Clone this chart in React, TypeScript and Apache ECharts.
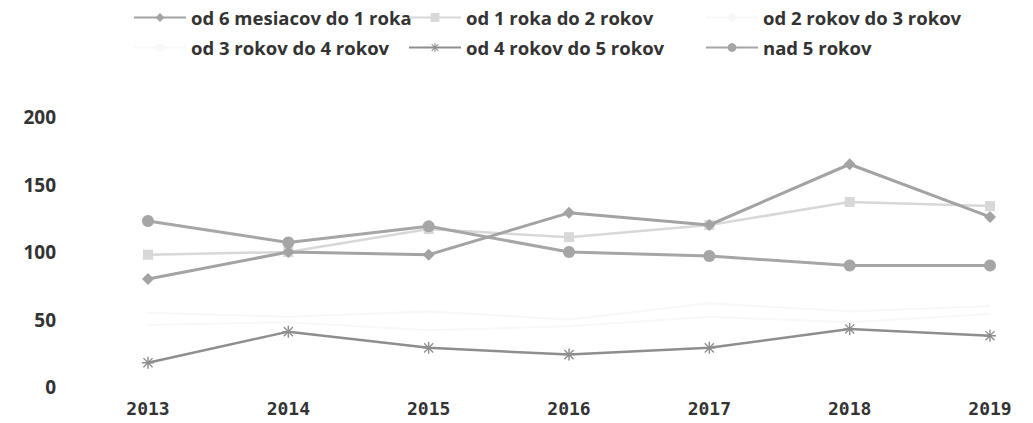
import React, { useEffect, useRef } from "react";
import * as echarts from "echarts";

const years = ["2013", "2014", "2015", "2016", "2017", "2018", "2019"];
const yTicks = [0, 50, 100, 150, 200];

const names = [
  "od 6 mesiacov do 1 roka",
  "od 1 roka do 2 rokov",
  "od 2 rokov do 3 rokov",
  "od 3 rokov do 4 rokov",
  "od 4 rokov do 5 rokov",
  "nad 5 rokov",
];

const s6m1r = [80, 100, 98, 129, 120, 165, 126];
const s1r2r = [98, 100, 117, 111, 120, 137, 134];
const s2r3r = [55, 52, 56, 50, 62, 56, 60];
const s3r4r = [46, 48, 42, 45, 52, 48, 54];
const s4r5r = [18, 41, 29, 24, 29, 43, 38];
const snad5 = [123, 107, 119, 100, 97, 90, 90];

const asterisk =
  "path://M4.4,0H5.6V10H4.4Z M0.8,1.6L1.6,0.8L9.2,8.4L8.4,9.2Z M8.4,0.8L9.2,1.6L1.6,9.2L0.8,8.4Z M0,4.4H10V5.6H0Z";

const legendLefts = [128, 403, 700, 128, 403, 700];
const legendTops = [3, 3, 3, 33, 33, 33];

export default function App() {
  const ref = useRef<HTMLDivElement>(null);
  useEffect(() => {
    if (!ref.current) return;
    const chart = echarts.init(ref.current, undefined, { renderer: "svg" });
    const legendText = {
      fontFamily: "Open Sans",
      fontWeight: "bold",
      fontSize: 18.5,
      color: "#333",
    };
    const mk = (
      name: string,
      data: number[],
      color: string,
      width: number,
      symbol: string,
      size: number,
      z: number
    ) => ({
      name,
      type: "line",
      data,
      symbol,
      symbolSize: size,
      showSymbol: true,
      z,
      lineStyle: { color, width },
      itemStyle: { color },
      emphasis: { disabled: true },
    });
    chart.setOption({
      animation: false,
      backgroundColor: "#ffffff",
      legend: names.map((n, i) => ({
        data: [n],
        left: legendLefts[i],
        top: legendTops[i],
        itemWidth: 52,
        itemHeight: 11,
        itemGap: 4,
        textStyle: legendText,
      })),
      grid: { left: 148, right: 43, top: 117, bottom: 36 },
      xAxis: {
        type: "category",
        data: years,
        boundaryGap: false,
        axisLine: { show: false },
        axisTick: { show: false },
        axisLabel: {
          margin: 12,
          fontFamily: "DejaVu Sans Mono",
          fontWeight: "bold",
          fontSize: 18,
          color: "#333",
        },
      },
      yAxis: {
        type: "value",
        min: 0,
        max: 200,
        interval: 50,
        splitLine: { show: false },
        axisLine: { show: false },
        axisTick: { show: false },
        axisLabel: {
          margin: 92,
          fontFamily: "Open Sans",
          fontWeight: "bold",
          fontSize: 19,
          color: "#333",
          formatter: (v: number) => (yTicks.includes(v) ? String(v) : ""),
        },
      },
      series: [
        mk(names[0], s6m1r, "#a3a3a3", 3, "diamond", 12, 6),
        mk(names[1], s1r2r, "#d8d8d8", 2.5, "rect", 10, 4),
        mk(names[2], s2r3r, "#f7f7f7", 2, "none", 6, 1),
        mk(names[3], s3r4r, "#f8f8f8", 2, "none", 6, 1),
        mk(names[4], s4r5r, "#8e8e8e", 2.5, asterisk, 12, 5),
        mk(names[5], snad5, "#a6a6a6", 3, "circle", 12, 5),
      ],
    });
    return () => chart.dispose();
  }, []);
  return <div ref={ref} style={{ width: 1033, height: 423, margin: -8 }} />;
}
